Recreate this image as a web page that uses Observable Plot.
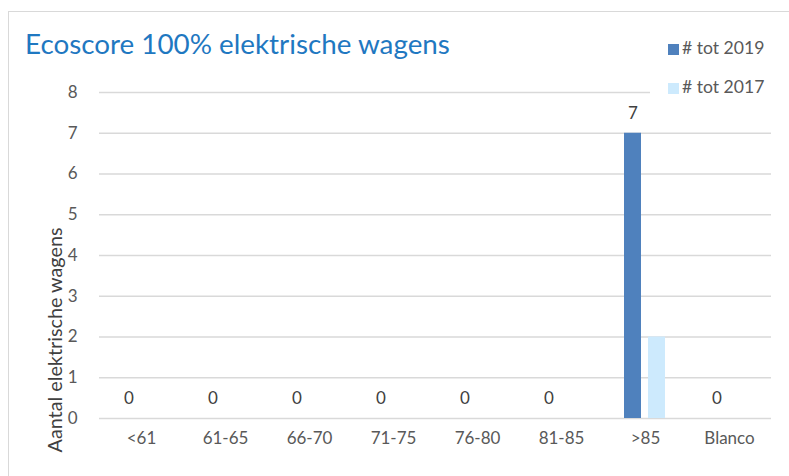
<!DOCTYPE html>
<html>
<head>
<meta charset="utf-8">
<script src="https://cdn.jsdelivr.net/npm/d3@7"></script>
<script src="https://cdn.jsdelivr.net/npm/@observablehq/plot@0.6"></script>
<style>
  body { margin: 0; background: #fff; }
  #wrap { position: relative; width: 789px; height: 476px; overflow: hidden; font-family: Lato, "Open Sans", sans-serif; }
  #frame { position: absolute; left: 8px; top: 11px; width: 900px; height: 600px; border: 1px solid #d9d9d9; box-sizing: border-box; }
  #title { position: absolute; left: 25px; top: 27px; font-size: 27.8px; color: #1f78c1; white-space: nowrap; }
  #ylab { position: absolute; left: 54px; top: 340px; transform: translate(-50%, -50%) rotate(-90deg); font-size: 19.8px; color: #404040; white-space: nowrap; }
  #legend { position: absolute; left: 650px; top: 36px; width: 130px; height: 70px; background: #fff; }
  .li { position: absolute; left: 18px; font-size: 17.6px; color: #595959; white-space: nowrap; }
  .sw { display: inline-block; width: 11px; height: 11px; margin-right: 3px; vertical-align: -1px; }
  #chart { position: absolute; left: 0; top: 0; }
</style>
</head>
<body>
<div id="wrap">
  <div id="frame"></div>
  <div id="chart"></div>
  <div id="title">Ecoscore 100% elektrische wagens</div>
  <div id="ylab">Aantal elektrische wagens</div>
  <div id="legend"></div>
</div>
<script>
const categories = ["<61", "61-65", "66-70", "71-75", "76-80", "81-85", ">85", "Blanco"];
const series = ["# tot 2019", "# tot 2017"];
const values2019 = [0, 0, 0, 0, 0, 0, 7, 0];
const values2017 = [0, 0, 0, 0, 0, 0, 2, 0];
const yTicks = [0, 1, 2, 3, 4, 5, 6, 7, 8];
const colors = ["#4f81bd", "#cdeafd"];

const data = [];
categories.forEach((c, i) => {
  data.push({cat: c, series: series[0], value: values2019[i]});
  data.push({cat: c, series: series[1], value: values2017[i]});
});
const labels = data.filter(d => d.series === series[0]);

const chart = Plot.plot({
  width: 789,
  height: 476,
  marginLeft: 98,
  marginRight: 17,
  marginTop: 92,
  marginBottom: 58,
  style: {fontFamily: "Lato, 'Open Sans', sans-serif", fontSize: "17px", color: "#595959", background: "transparent"},
  fx: {domain: categories, padding: 0, label: null, axis: "bottom", tickSize: 0, tickPadding: 13},
  x: {domain: series, axis: null, paddingInner: 0.28, paddingOuter: 0.86},
  y: {domain: [0, 8], ticks: yTicks, tickSize: 0, tickPadding: 22, label: null},
  color: {domain: series, range: colors},
  marks: [
    Plot.ruleY(yTicks, {stroke: "#d9d9d9", strokeWidth: 1.3}),
    Plot.barY(data, {fx: "cat", x: "series", y: "value", fill: "series"}),
    Plot.text(labels, {fx: "cat", x: "series", y: "value", text: d => String(d.value), dy: -20, fill: "#404040", fontSize: 17})
  ]
});
document.getElementById("chart").appendChild(chart);

const legend = document.getElementById("legend");
series.forEach((s, i) => {
  const el = document.createElement("div");
  el.className = "li";
  el.style.top = (i === 0 ? 1 : 40) + "px";
  el.innerHTML = `<span class="sw" style="background:${colors[i]}"></span>`;
  el.appendChild(document.createTextNode(s));
  legend.appendChild(el);
});
</script>
</body>
</html>
